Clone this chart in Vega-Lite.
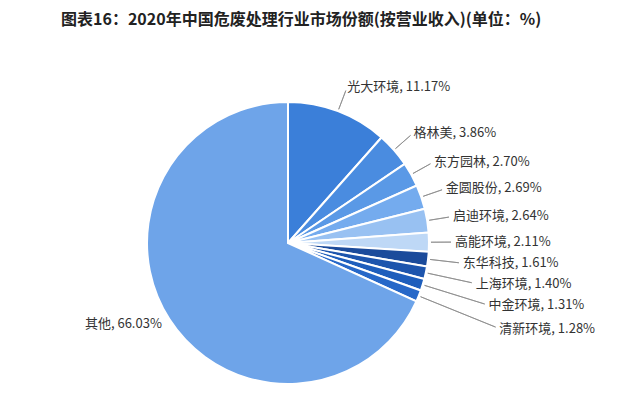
{
  "$schema": "https://vega.github.io/schema/vega-lite/v6.json",
  "autosize": {"type": "none"},
  "width": 576,
  "height": 304,
  "padding": {"top": 91, "left": 0, "right": 64, "bottom": 0},
  "background": "#ffffff",
  "title": {
    "text": "图表16：2020年中国危废处理行业市场份额(按营业收入)(单位：%)",
    "anchor": "start",
    "frame": "group",
    "baseline": "alphabetic",
    "offset": 40,
    "dx": 61,
    "font": "Noto Sans CJK SC",
    "fontSize": 16,
    "fontWeight": "bold",
    "color": "#222222"
  },
  "data": {
    "values": [
      {"rank": 1, "name": "光大环境", "share": 11.17, "label": "光大环境, 11.17%"},
      {"rank": 2, "name": "格林美", "share": 3.86, "label": "格林美, 3.86%"},
      {"rank": 3, "name": "东方园林", "share": 2.70, "label": "东方园林, 2.70%"},
      {"rank": 4, "name": "金圆股份", "share": 2.69, "label": "金圆股份, 2.69%"},
      {"rank": 5, "name": "启迪环境", "share": 2.64, "label": "启迪环境, 2.64%"},
      {"rank": 6, "name": "高能环境", "share": 2.11, "label": "高能环境, 2.11%"},
      {"rank": 7, "name": "东华科技", "share": 1.61, "label": "东华科技, 1.61%"},
      {"rank": 8, "name": "上海环境", "share": 1.40, "label": "上海环境, 1.40%"},
      {"rank": 9, "name": "中金环境", "share": 1.31, "label": "中金环境, 1.31%"},
      {"rank": 10, "name": "清新环境", "share": 1.28, "label": "清新环境, 1.28%"},
      {"rank": 11, "name": "其他", "share": 66.03, "label": "其他, 66.03%"}
    ]
  },
  "encoding": {
    "theta": {"field": "share", "type": "quantitative", "stack": true},
    "order": {"field": "rank", "type": "quantitative", "sort": "ascending"}
  },
  "layer": [
    {
      "mark": {"type": "arc", "outerRadius": 141, "stroke": "#ffffff", "strokeWidth": 2},
      "encoding": {
        "color": {
          "field": "name",
          "type": "nominal",
          "legend": null,
          "scale": {
            "domain": ["光大环境", "格林美", "东方园林", "金圆股份", "启迪环境", "高能环境", "东华科技", "上海环境", "中金环境", "清新环境", "其他"],
            "range": ["#3b7fd9", "#4a8ce0", "#5a99e6", "#74abee", "#98c1f2", "#bed8f6", "#1b4b9b", "#1d55ad", "#1e5ebc", "#2768c8", "#6ea4e9"]
          }
        }
      }
    },
    {
      "mark": {
        "type": "arc",
        "radius": {"expr": "datum.rank == 8 ? 188 : datum.rank == 9 ? 206 : datum.rank == 10 ? 224 : datum.rank == 7 ? 172 : 163"},
        "radius2": 143,
        "padAngle": 1.4,
        "fill": null,
        "stroke": "#8a8a8a",
        "strokeWidth": 0.8
      },
      "encoding": {
        "strokeOpacity": {"condition": {"test": "datum.name === '其他'", "value": 0}, "value": 1}
      }
    },
    {
      "transform": [{"filter": "datum.name !== '其他'"}],
      "mark": {
        "type": "text",
        "radius": {"expr": "datum.rank == 8 ? 192 : datum.rank == 9 ? 210 : datum.rank == 10 ? 228 : datum.rank == 7 ? 176 : 167"},
        "align": "left",
        "baseline": "middle",
        "font": "Noto Sans CJK SC",
        "fontSize": 13,
        "color": "#333333"
      },
      "encoding": {
        "text": {"field": "label"}
      }
    },
    {
      "mark": {"type": "text", "radius": 150, "align": "right", "baseline": "middle", "font": "Noto Sans CJK SC", "fontSize": 13, "color": "#333333"},
      "encoding": {
        "text": {"field": "label"},
        "opacity": {"condition": {"test": "datum.name === '其他'", "value": 1}, "value": 0}
      }
    }
  ]
}
